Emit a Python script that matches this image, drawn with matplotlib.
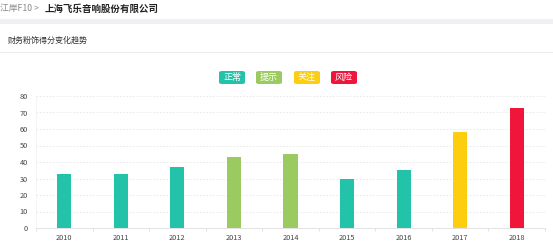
import matplotlib.pyplot as plt
from matplotlib.patches import Rectangle, FancyBboxPatch

plt.rcParams['font.family'] = ['Noto Sans CJK SC', 'DejaVu Sans']

years = ["2010", "2011", "2012", "2013", "2014", "2015", "2016", "2017", "2018"]
scores = [33, 33, 37, 43, 45, 30, 35, 58, 73]
levels = ["正常", "正常", "正常", "提示", "提示", "正常", "正常", "关注", "风险"]
level_names = ["正常", "提示", "关注", "风险"]
level_colors = {"正常": "#22c3a9", "提示": "#9bca60", "关注": "#fdcd10", "风险": "#f0163b"}

W, H = 553, 244
fig = plt.figure(figsize=(W / 100, H / 100), dpi=100)
fig.patch.set_facecolor("white")

# header
fig.add_artist(Rectangle((0, 1 - 24 / H), 1, 5 / H, transform=fig.transFigure,
                         facecolor="#eef0f4", edgecolor="none"))
fig.add_artist(Rectangle((0, 1 - 53 / H), 1, 1 / H, transform=fig.transFigure,
                         facecolor="#ececec", edgecolor="none"))
fig.text(0, 1 - 9 / H, "江岸F10 >", fontsize=6.3, color="#888888", va="center", ha="left")
fig.text(45 / W, 1 - 9 / H, "上海飞乐音响股份有限公司", fontsize=6.8, color="#222222",
         va="center", ha="left", fontweight="bold")
fig.text(8 / W, 1 - 40 / H, "财务粉饰得分变化趋势", fontsize=5.8, color="#333333", va="center", ha="left")

# legend boxes
legend_x = [232, 269, 307, 344]
for name, cx in zip(level_names, legend_x):
    fig.add_artist(FancyBboxPatch(((cx - 13) / W, 1 - 84 / H), 26 / W, 13 / H,
                                  boxstyle="round,pad=0,rounding_size=0.006",
                                  transform=fig.transFigure, facecolor=level_colors[name],
                                  edgecolor="none"))
    fig.text(cx / W, 1 - 77.5 / H, name, fontsize=6.5, color="white", ha="center", va="center")

ax = fig.add_axes([36 / W, 16 / H, 509 / W, 132 / H])
x = list(range(len(years)))
ax.bar(x, scores, width=0.25, color=[level_colors[l] for l in levels], zorder=3)
ax.set_xlim(-0.5, len(years) - 0.5)
ax.set_ylim(0, 80)
ax.set_yticks(range(0, 81, 10))
ax.set_xticks(x)
ax.set_xticklabels(years)
ax.set_xticks([i - 0.5 for i in range(len(years) + 1)], minor=True)
ax.tick_params(axis="x", which="major", length=0, labelsize=5.3, colors="#444444", pad=4)
ax.tick_params(axis="x", which="minor", length=2, color="#dddddd")
ax.tick_params(axis="y", length=0, labelsize=5.3, colors="#444444", pad=6)
ax.grid(axis="y", linestyle=(0, (2, 2)), color="#e6e6e6", linewidth=0.6, zorder=0)
for s in ["top", "right"]:
    ax.spines[s].set_visible(False)
ax.spines["left"].set_color("#f0f0f0")
ax.spines["left"].set_linestyle((0, (2, 2)))
ax.spines["left"].set_linewidth(0.6)
ax.spines["bottom"].set_color("#dddddd")
ax.spines["bottom"].set_linewidth(0.6)

fig.savefig("out.png", dpi=100)
